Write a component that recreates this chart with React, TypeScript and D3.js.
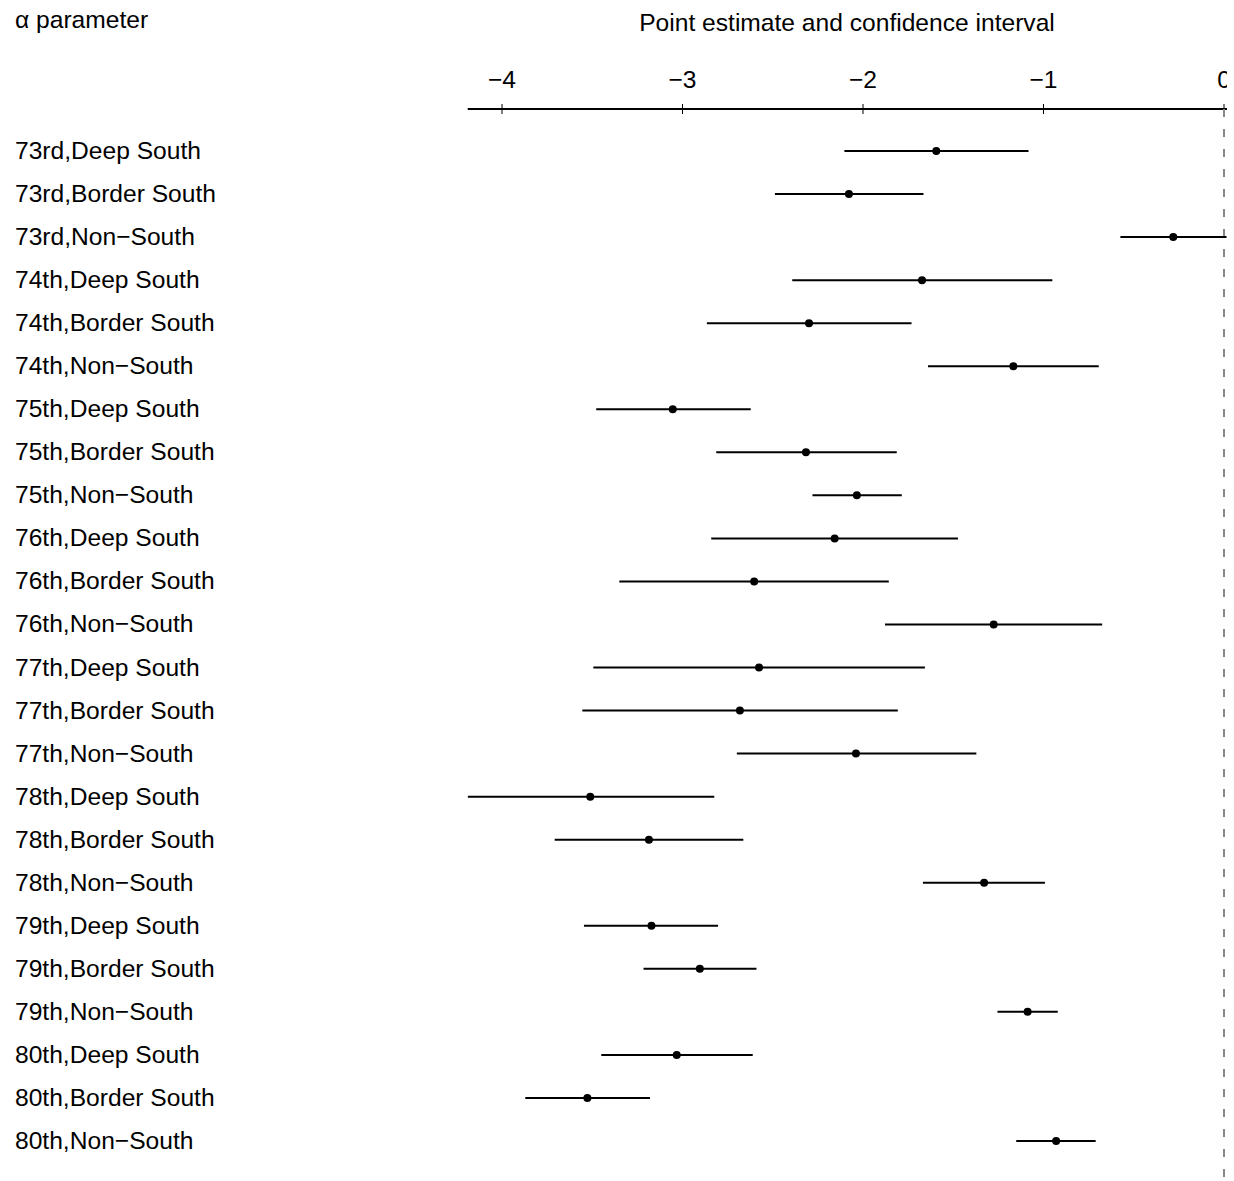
import React from "react";
import * as d3 from "d3";

const labels = [
  "73rd,Deep South", "73rd,Border South", "73rd,Non\u2212South",
  "74th,Deep South", "74th,Border South", "74th,Non\u2212South",
  "75th,Deep South", "75th,Border South", "75th,Non\u2212South",
  "76th,Deep South", "76th,Border South", "76th,Non\u2212South",
  "77th,Deep South", "77th,Border South", "77th,Non\u2212South",
  "78th,Deep South", "78th,Border South", "78th,Non\u2212South",
  "79th,Deep South", "79th,Border South", "79th,Non\u2212South",
  "80th,Deep South", "80th,Border South", "80th,Non\u2212South",
];
const estimates = [
  -1.594, -2.078, -0.281,
  -1.673, -2.299, -1.167,
  -3.054, -2.316, -2.034,
  -2.157, -2.603, -1.276,
  -2.576, -2.682, -2.039,
  -3.511, -3.186, -1.329,
  -3.172, -2.904, -1.088,
  -3.032, -3.527, -0.930,
];
const lower = [
  -2.103, -2.488, -0.574,
  -2.392, -2.865, -1.640,
  -3.478, -2.813, -2.280,
  -2.841, -3.350, -1.878,
  -3.494, -3.555, -2.699,
  -4.189, -3.708, -1.668,
  -3.546, -3.216, -1.255,
  -3.450, -3.871, -1.151,
];
const upper = [
  -1.083, -1.665, 0.014,
  -0.951, -1.731, -0.694,
  -2.622, -1.813, -1.785,
  -1.474, -1.857, -0.675,
  -1.657, -1.807, -1.372,
  -2.824, -2.663, -0.992,
  -2.803, -2.590, -0.921,
  -2.611, -3.180, -0.711,
];
const ticks = [-4, -3, -2, -1, 0];
const tickLabels = ["\u22124", "\u22123", "\u22122", "\u22121", "0"];

const W = 1234;
const H = 1181;
const FONT = "'Liberation Sans', Arial, sans-serif";
const FS = 24.6;

export default function App() {
  const x = d3.scaleLinear().domain([-4, 0]).range([502, 1224]);
  const y = d3
    .scalePoint<number>()
    .domain(d3.range(labels.length))
    .range([151, 1141]);
  const axisY = 109;

  return (
    <svg
      width={W}
      height={H}
      style={{ position: "absolute", left: 0, top: 0, background: "#fff" }}
      fontFamily={FONT}
    >
      <defs>
        <clipPath id="pageclip">
          <rect x={0} y={0} width={1227} height={H} />
        </clipPath>
      </defs>
      <rect x={0} y={0} width={W} height={H} fill="#fff" />
      <g clipPath="url(#pageclip)">
        <text x={15} y={28} fontSize={FS}>
          {"\u03b1 parameter"}
        </text>
        <text x={847} y={31} fontSize={FS} textAnchor="middle">
          Point estimate and confidence interval
        </text>
        {/* axis */}
        <line x1={x(-4.19)} x2={x(0.1)} y1={axisY} y2={axisY} stroke="#000" strokeWidth={2} />
        {ticks.map((t, i) => (
          <g key={t}>
            <line x1={x(t)} x2={x(t)} y1={axisY - 5} y2={axisY + 5} stroke="#000" strokeWidth={1} />
            <text x={x(t)} y={88} fontSize={FS} textAnchor="middle">
              {tickLabels[i]}
            </text>
          </g>
        ))}
        {/* zero reference line */}
        <line
          x1={x(0)}
          x2={x(0)}
          y1={axisY}
          y2={H}
          stroke="#888"
          strokeWidth={2}
          strokeDasharray="8,12"
        />
        {labels.map((lab, i) => {
          const yy = y(i) as number;
          return (
            <g key={lab}>
              <text x={15} y={yy + 8} fontSize={FS}>
                {lab}
              </text>
              <line x1={x(lower[i])} x2={x(upper[i])} y1={yy} y2={yy} stroke="#000" strokeWidth={2} />
              <circle cx={x(estimates[i])} cy={yy} r={4} fill="#000" />
            </g>
          );
        })}
      </g>
    </svg>
  );
}
